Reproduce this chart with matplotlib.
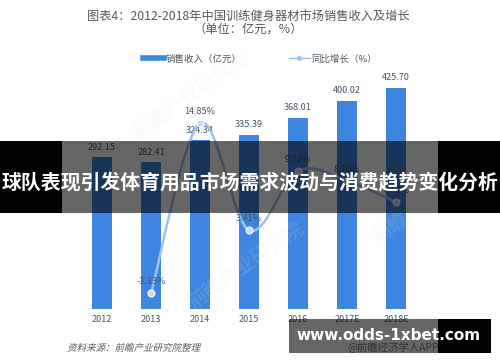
import matplotlib
matplotlib.use("Agg")
import matplotlib.pyplot as plt
from matplotlib.patches import Rectangle, PathPatch
from matplotlib.lines import Line2D
from matplotlib.path import Path
from matplotlib.textpath import TextPath
from matplotlib.font_manager import FontProperties
from matplotlib.transforms import Affine2D

plt.rcParams['font.family'] = ['Noto Sans CJK SC', 'DejaVu Sans']

years = ["2012", "2013", "2014", "2015", "2016", "2017E", "2018E"]
sales = [292.15, 282.41, 324.34, 335.39, 368.01, 400.02, 425.70]
growth = [None, -3.33, 14.85, 3.41, 9.73, 8.70, 6.42]

title1 = "图表4：2012-2018年中国训练健身器材市场销售收入及增长"
title2 = "（单位：亿元，%）"
banner = "球队表现引发体育用品市场需求波动与消费趋势变化分析"
source = "资料来源：前瞻产业研究院整理"

bar_color = "#3d85de"
line_color = "#9fc2ea"
label_color = "#44546a"

W, H = 500, 362
fig = plt.figure(figsize=(W / 100, H / 100), dpi=100)
fig.patch.set_facecolor("white")

ax = fig.add_axes([77.5 / W, 53 / H, 343 / W, 234 / H])
x = list(range(len(years)))
ax.bar(x, sales, width=0.41, color=bar_color, zorder=2)
ax.set_xlim(-0.5, 6.5)
ax.set_ylim(0, 450)
for s in ax.spines.values():
    s.set_visible(False)
ax.set_yticks([])
ax.set_xticks(x, years)
ax.tick_params(axis="x", length=0, pad=4, labelsize=6.5, labelcolor=label_color)
for xi, v in zip(x, sales):
    ax.annotate(f"{v:.2f}", (xi, v), xytext=(0, 4), textcoords="offset points",
                ha="center", va="bottom", fontsize=6.5, color=label_color)

ax2 = ax.twinx()
ax2.set_ylim(-5, 20)
ax2.set_yticks([])
for s in ax2.spines.values():
    s.set_visible(False)

# smoothed line (Catmull-Rom as cubic Bezier) through the growth points
gx = [xi for xi, g in zip(x, growth) if g is not None]
gy = [g for g in growth if g is not None]
pts = list(zip(gx, gy))
verts = [pts[0]]
codes = [Path.MOVETO]
for i in range(len(pts) - 1):
    p0 = pts[i - 1] if i > 0 else pts[i]
    p1 = pts[i]
    p2 = pts[i + 1]
    p3 = pts[i + 2] if i + 2 < len(pts) else pts[i + 1]
    c1 = (p1[0] + (p2[0] - p0[0]) / 6, p1[1] + (p2[1] - p0[1]) / 6)
    c2 = (p2[0] - (p3[0] - p1[0]) / 6, p2[1] - (p3[1] - p1[1]) / 6)
    verts += [c1, c2, p2]
    codes += [Path.CURVE4] * 3
ax2.add_patch(PathPatch(Path(verts, codes), facecolor="none", edgecolor=line_color,
                        lw=1.8, zorder=3))
ax2.plot(gx, gy, "o", ms=5, mfc="#c9dbf3", mec="white", mew=0.8, zorder=4)
for xi, g in zip(gx, gy):
    ax2.annotate(f"{g:.2f}%", (xi, g), xytext=(0, 5), textcoords="offset points",
                 ha="center", va="bottom", fontsize=6.5, color=label_color)

# titles
fig.text(248.5 / W, 1 - 16 / H, title1, ha="center", va="center", fontsize=8.8, color="#595959")
fig.text(248 / W, 1 - 29 / H, title2, ha="center", va="center", fontsize=8.8, color="#595959")

# legend
handles = [Line2D([], [], color=bar_color, lw=4),
           Line2D([], [], color=line_color, lw=1, marker="o", ms=2.5, mfc=line_color)]
fig.legend(handles, ["销售收入（亿元）", "同比增长（%）"], loc="center",
           bbox_to_anchor=(260 / W, 1 - 59 / H), ncol=2, frameon=False,
           fontsize=6.8, labelcolor="#595959", handlelength=2.2, handletextpad=0.2,
           columnspacing=5)

# faint diagonal watermarks
for wx, wy in [(190 / W, 1 - 95 / H), (245 / W, 1 - 265 / H), (430 / W, 1 - 200 / H)]:
    fig.text(wx, wy, "前瞻产业研究院", rotation=35, ha="center", va="center",
             fontsize=14, color="#e6e6e6", alpha=0.15, fontweight="bold")

# source line (slanted)
fp = FontProperties(family="Noto Sans CJK SC")
tp = TextPath((0, 0), source, size=9.5, prop=fp)
tr = Affine2D().skew_deg(15, 0).translate(67, H - 351)
fig.patches.append(PathPatch(tr.transform_path(tp), facecolor="#595959", edgecolor="none",
                             transform=None, figure=fig))
fig.text(393 / W, 1 - 347 / H, "@前瞻经济学人APP", ha="center", va="center",
         fontsize=7.5, color="#7f7f7f")

# overlay banner
y0, y1 = 1 - 213 / H, 1 - 141 / H
fig.patches.append(Rectangle((0, y0), 62 / W, y1 - y0, transform=fig.transFigure,
                             facecolor="black", edgecolor="none", zorder=5, figure=fig))
fig.patches.append(Rectangle((438 / W, y0), 62 / W, y1 - y0, transform=fig.transFigure,
                             facecolor="black", edgecolor="none", zorder=5, figure=fig))
fig.patches.append(Rectangle((62 / W, y0), 376 / W, y1 - y0, transform=fig.transFigure,
                             facecolor="black", alpha=0.6, edgecolor="none", zorder=5, figure=fig))
fig.text(250 / W, 1 - 182 / H, banner, ha="center", va="center", fontsize=14.3,
         fontweight="bold", color="white", zorder=6)

# url box
b0, b1 = 1 - 353 / H, 1 - 319 / H
fig.patches.append(Rectangle((289 / W, b0), 149 / W, b1 - b0, transform=fig.transFigure,
                             facecolor="black", alpha=0.6, edgecolor="none", zorder=5, figure=fig))
fig.patches.append(Rectangle((438 / W, b0), 53 / W, b1 - b0, transform=fig.transFigure,
                             facecolor="black", edgecolor="none", zorder=5, figure=fig))
fig.text(389 / W, 1 - 336 / H, "www.odds-1xbet.com", ha="center", va="center",
         fontsize=11, fontweight="bold", color="white", family="DejaVu Sans", zorder=6)

fig.savefig("out.png", dpi=100)
